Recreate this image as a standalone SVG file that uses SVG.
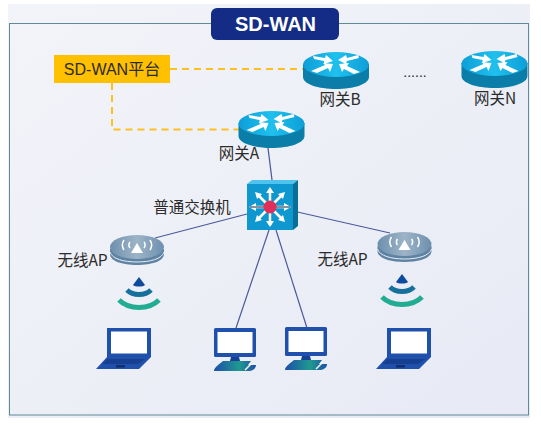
<svg xmlns="http://www.w3.org/2000/svg" xmlns:xlink="http://www.w3.org/1999/xlink" width="541" height="428" viewBox="0 0 541 428">
<style>
text{font-family:"Liberation Sans","Noto Sans CJK SC",sans-serif;font-size:15.500px;fill:#2b2b2b}
.cn{font-family:"Noto Sans CJK SC","Liberation Sans",sans-serif}
.lnk{stroke:#4a5a9a;stroke-width:1.200;fill:none}
.dash{stroke:#fdc020;stroke-width:2;stroke-dasharray:7 5;fill:none}
.arw{fill:#fff;stroke:none}
</style>
<defs>
<linearGradient id="bg" x1="0" y1="0" x2="1" y2="1"><stop offset="0" stop-color="#f3f4f9"/><stop offset="1" stop-color="#e7eaf5"/></linearGradient>
<linearGradient id="rt" x1="0" y1="0" x2="1" y2="0"><stop offset="0" stop-color="#0d9fd8"/><stop offset=".5" stop-color="#1fc0ee"/><stop offset="1" stop-color="#0d9fd8"/></linearGradient>
<linearGradient id="ap" x1="0" y1="0" x2="1" y2="0"><stop offset="0" stop-color="#6d90ae"/><stop offset=".5" stop-color="#9db4c7"/><stop offset="1" stop-color="#6d90ae"/></linearGradient>
<linearGradient id="kb" x1="0" y1="0" x2="1" y2="0"><stop offset="0" stop-color="#1d4faa"/><stop offset=".6" stop-color="#1f9a8e"/><stop offset="1" stop-color="#1d4faa"/></linearGradient>
<symbol id="router" overflow="visible">
<path d="M-33 12V25C-33 32 -18 37 0 37S33 32 33 25V12Z" fill="#0a7ea8"/>
<ellipse cx="0" cy="12.500" rx="33" ry="12.500" fill="url(#rt)"/>
<path class="arw" d="M-23 4L-11 6L-10 3L-3 9L-12 12L-12 9L-22 7ZM22 3L11 6L10 3L2 8L10 12L11 9L23 6ZM-25 19L-11 13L-13 11L-3 12L-6 20L-8 16L-19 21ZM24 20L11 14L13 11L3 12L6 20L8 17L18 22Z"/>
</symbol>
<symbol id="wap" overflow="visible">
<path d="M-27 14V19C-27 26 -15 30 0 30S27 26 27 19V14Z" fill="#5f83a3"/>
<path d="M-27 17C-25 24 -13 27 0 27S25 24 27 17" fill="none" stroke="#e8eef4" stroke-width="1"/>
<ellipse cx="0" cy="12" rx="27" ry="12" fill="url(#ap)"/>
<path d="M0 8L6 18H-6Z" fill="#fff"/>
<path d="M-7 7A5 5 0 0 0 -7 13M7 7A5 5 0 0 1 7 13M-13 5A9 9 0 0 0 -13 15M13 5A9 9 0 0 1 13 15" fill="none" stroke="#fff" stroke-width="1.500"/>
</symbol>
<symbol id="signal" overflow="visible">
<path d="M0 0L6 8C4 10 -4 10 -6 8Z" fill="#0e4a9e"/>
<path d="M-12 13C-6 19 6 19 12 13" fill="none" stroke="#15719b" stroke-width="5"/>
<path d="M-20 23C-10 33 10 33 20 23" fill="none" stroke="#22ad93" stroke-width="5"/>
</symbol>
<symbol id="laptop" overflow="visible">
<path d="M11 0H55V29L43 41H0L11 29Z" fill="#1f50ab"/>
<rect x="15" y="3.500" width="36" height="22" fill="#fff"/>
<path d="M12 31H49L42 36H6Z" fill="#16408f"/>
<rect x="20" y="37" width="9" height="2.500" fill="#0f2f70"/>
</symbol>
<symbol id="pc" overflow="visible">
<rect x="0" y="0" width="42" height="29" rx="1.500" fill="#1f50ab"/>
<rect x="3.500" y="4" width="35" height="21" fill="#fff"/>
<path d="M17 29H25L26 33H16Z" fill="#173f93"/>
<path d="M9 33H37L34 37H42C42 41 38 43 34 43H0C0 40 5 36 9 33Z" fill="url(#kb)"/>
<path d="M31 42L37 36" stroke="#fff" stroke-width="1.500" fill="none"/>
</symbol>
</defs>
<rect x="8" y="4" width="522" height="414" fill="url(#bg)"/>
<rect id="frame" x="9.500" y="23.500" width="519" height="391.500" fill="none" stroke="#5f8a96" stroke-width="1"/>
<g id="connectors">
<path class="dash" d="M170 69H304"/>
<path class="dash" d="M112 83V129.500H240"/>
<path class="lnk" d="M268 148L272 180"/>
<path class="lnk" d="M247 214L155 238"/>
<path class="lnk" d="M293 211L390 233"/>
<path class="lnk" d="M269 230L236 328"/>
<path class="lnk" d="M276 230L307 328"/>
</g>
<g id="title"><rect x="211" y="8" width="128" height="32" rx="6" fill="#142c85"/><text x="275.500" y="31" text-anchor="middle" style="font-size:20px;font-weight:bold;fill:#fff">SD-WAN</text></g>
<g id="platform"><rect x="54" y="55" width="116" height="28" fill="#ffc000"/><text x="112" y="75" text-anchor="middle" style="font-size:16px">SD-WAN平台</text></g>
<g id="gatewayB"><use xlink:href="#router" href="#router" x="336" y="52"/><text class="cn" x="340" y="105" text-anchor="middle">网关B</text></g>
<g id="gatewayN"><use xlink:href="#router" href="#router" x="494.500" y="51"/><text class="cn" x="495" y="104" text-anchor="middle">网关N</text></g>
<g id="dots"><text x="415" y="77" text-anchor="middle" style="font-size:14px">......</text></g>
<g id="gatewayA"><use xlink:href="#router" href="#router" x="271.500" y="111"/><text class="cn" x="239" y="159" text-anchor="middle">网关A</text></g>
<g id="switch">
<path d="M247 184L252 180H298L293 184Z" fill="#4dc4ee"/>
<path d="M293 184L298 180V226L293 230Z" fill="#0a6f97"/>
<rect x="247" y="184" width="46" height="46" fill="#0f97cf"/>
<path d="M252 207H288M270 189V225M257 194L283 220M283 194L257 220" stroke="#fff" stroke-width="2.500" fill="none"/>
<path class="arw" d="M270 187L274 193H266ZM270 227L274 221H266ZM249 207L256 203V211ZM291 207L284 203V211ZM255 192L262 194L257 199ZM285 192L278 194L283 199ZM255 222L262 220L257 215ZM285 222L278 220L283 215Z"/>
<path d="M250 207H290" stroke="#10223c" stroke-width="1"/>
<circle cx="270" cy="207" r="6.500" fill="#e0305a"/>
</g>
<g id="switchLabel"><text class="cn" x="192" y="213" text-anchor="middle">普通交换机</text></g>
<g id="apLeft"><use xlink:href="#wap" href="#wap" x="137" y="235"/><text class="cn" x="82.500" y="266" text-anchor="middle">无线AP</text><use xlink:href="#signal" href="#signal" x="139" y="277"/></g>
<g id="apRight"><use xlink:href="#wap" href="#wap" x="404.500" y="232"/><text class="cn" x="342.500" y="265" text-anchor="middle">无线AP</text><use xlink:href="#signal" href="#signal" x="402" y="274"/></g>
<g id="laptopLeft"><use xlink:href="#laptop" href="#laptop" x="96" y="328"/></g>
<g id="laptopRight"><use xlink:href="#laptop" href="#laptop" x="376" y="328"/></g>
<g id="pcLeft"><use xlink:href="#pc" href="#pc" x="214" y="328"/></g>
<g id="pcRight"><use xlink:href="#pc" href="#pc" x="285" y="327"/></g>
</svg>
